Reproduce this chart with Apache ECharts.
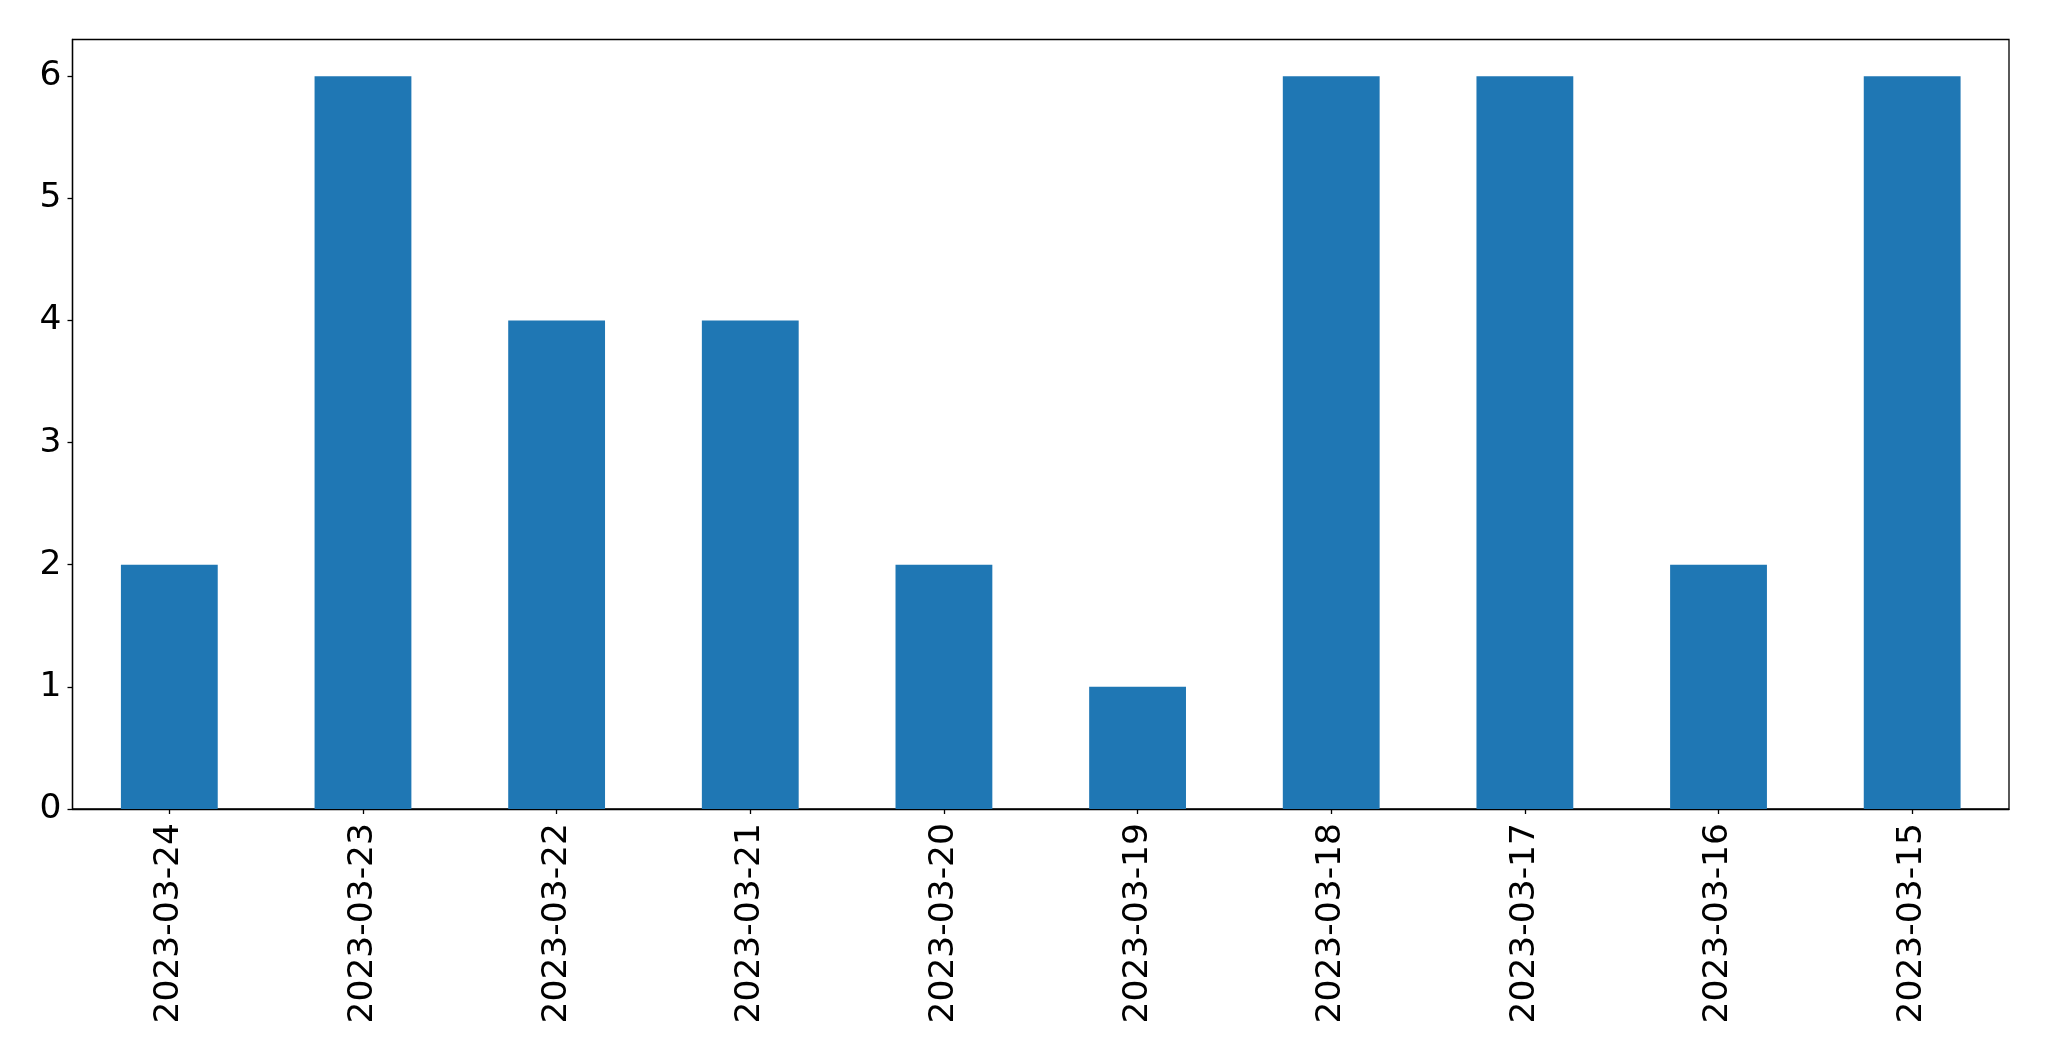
<!DOCTYPE html>
<html>
<head>
<meta charset="utf-8">
<script src="https://cdn.jsdelivr.net/npm/echarts@6/dist/echarts.min.js"></script>
<style>
html,body{margin:0;padding:0;background:#fff;}
#chart{width:2049px;height:1061px;}
</style>
</head>
<body>
<div id="chart"></div>
<script>
const categories = ['2023-03-24','2023-03-23','2023-03-22','2023-03-21','2023-03-20','2023-03-19','2023-03-18','2023-03-17','2023-03-16','2023-03-15'];
const values = [2, 6, 4, 4, 2, 1, 6, 6, 2, 6];
const yTicks = [0, 1, 2, 3, 4, 5, 6];

const chart = echarts.init(document.getElementById('chart'), null, {renderer: 'canvas'});
chart.setOption({
  animation: false,
  backgroundColor: '#ffffff',
  textStyle: {fontFamily: 'DejaVu Sans'},
  grid: {left: 72.5, right: 40, top: 39.5, bottom: 252, show: true, borderColor: '#000', borderWidth: 1.3, backgroundColor: 'transparent'},
  xAxis: {
    type: 'category',
    data: categories,
    boundaryGap: true,
    axisLine: {show: true, lineStyle: {color: '#000', width: 1.3}},
    axisTick: {show: true, alignWithLabel: true, length: 5, lineStyle: {color: '#000', width: 1.3}},
    axisLabel: {rotate: 90, margin: 14, fontSize: 34.5, color: '#000', fontFamily: 'DejaVu Sans', interval: 0},
    splitLine: {show: false}
  },
  yAxis: {
    type: 'value',
    min: 0,
    max: 6.3,
    interval: 1,
    axisLine: {show: true, lineStyle: {color: '#000', width: 1.3}},
    axisTick: {show: true, length: 5, customValues: yTicks, lineStyle: {color: '#000', width: 1.3}},
    axisLabel: {margin: 11, fontSize: 34.5, color: '#000', fontFamily: 'DejaVu Sans', customValues: yTicks,
      formatter: function (v) { return yTicks.indexOf(v) >= 0 ? String(v) : ''; }},
    splitLine: {show: false}
  },
  series: [{
    type: 'bar',
    data: values,
    barWidth: '50%',
    itemStyle: {color: '#1f77b4'}
  }]
});
</script>
</body>
</html>
